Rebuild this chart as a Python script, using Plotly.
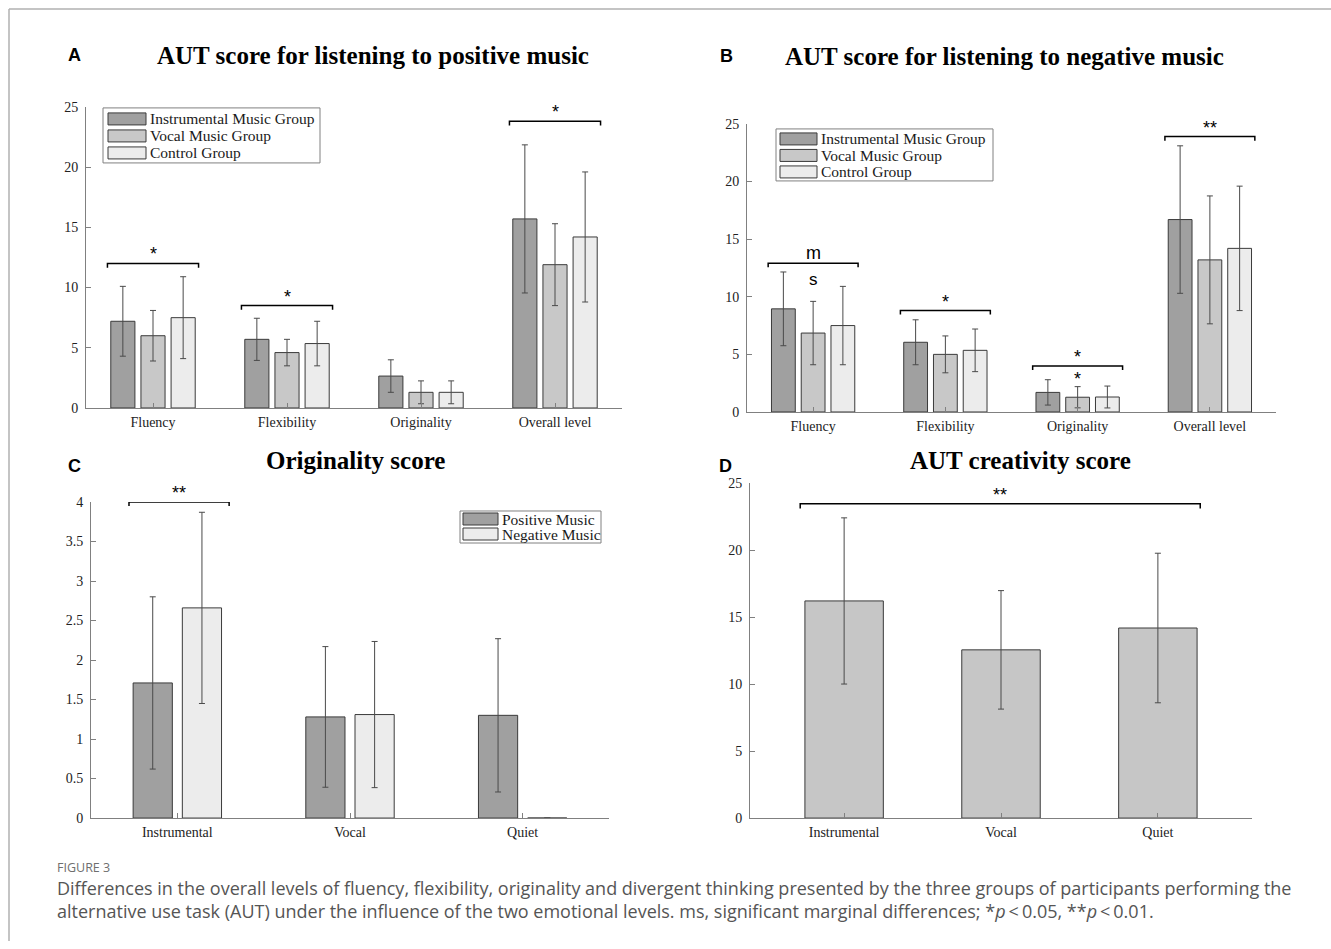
import plotly.graph_objects as go

W, H = 1331, 949

# ---------------- data ----------------
cats_ab = ["Fluency", "Flexibility", "Originality", "Overall level"]
groups_ab = ["Instrumental Music Group", "Vocal Music Group", "Control Group"]

pos_instr = [7.2, 5.7, 2.65, 15.7]
pos_instr_err = [2.9, 1.75, 1.35, 6.15]
pos_vocal = [6.0, 4.6, 1.3, 11.9]
pos_vocal_err = [2.1, 1.1, 0.95, 3.4]
pos_ctrl = [7.5, 5.35, 1.3, 14.2]
pos_ctrl_err = [3.4, 1.85, 0.95, 5.4]

neg_instr = [8.95, 6.05, 1.7, 16.7]
neg_instr_err = [3.2, 1.95, 1.1, 6.4]
neg_vocal = [6.85, 5.0, 1.28, 13.2]
neg_vocal_err = [2.75, 1.6, 0.92, 5.55]
neg_ctrl = [7.5, 5.35, 1.3, 14.2]
neg_ctrl_err = [3.4, 1.85, 0.95, 5.4]

cats_c = ["Instrumental", "Vocal", "Quiet"]
groups_c = ["Positive Music", "Negative Music"]
orig_pos = [1.71, 1.28, 1.30]
orig_pos_err = [1.09, 0.89, 0.97]
orig_neg = [2.66, 1.31, 0.0]
orig_neg_err = [1.21, 0.925, 0.0]

cats_d = ["Instrumental", "Vocal", "Quiet"]
creat = [16.2, 12.55, 14.18]
creat_err = [6.2, 4.42, 5.58]

titles = ["AUT score for listening to positive music",
          "AUT score for listening to negative music",
          "Originality score",
          "AUT creativity score"]
letters = ["A", "B", "C", "D"]

caption_head = "FIGURE 3"
caption_lines = [
    "Differences in the overall levels of fluency, flexibility, originality and divergent thinking presented by the three groups of participants performing the",
    "alternative use task (AUT) under the influence of the two emotional levels. ms, significant marginal differences; *<i>p</i>\u2009<\u20090.05, **<i>p</i>\u2009<\u20090.01.",
]

# ---------------- style ----------------
SERIF = "Liberation Serif, Times New Roman, serif"
SANS = "Liberation Sans, Arial, sans-serif"
CAP = "Open Sans, Noto Sans, sans-serif"
AX = "#808080"
EDGE = "#3a3a3a"
ERR = "#4a4a4a"
COL3 = ["#a0a0a0", "#c8c8c8", "#ececec"]
COL2 = ["#a0a0a0", "#ececec"]
COLD = "#c6c6c6"

# vertical calibration of the capture (observed: shown = 0.984 * page + 7)
VS, VO = 0.984, 7.1


def px_x(p):
    return p / W


def px_y(p):
    return 1 - ((p - VO) / VS) / H


fig = go.Figure()


def add_group(xa, ya, cats, series, errs, names, colors, bw, slot):
    n = len(series)
    xs = list(range(len(cats)))
    for i, (vals, er, nm, c) in enumerate(zip(series, errs, names, colors)):
        center = (i - (n - 1) / 2) * slot
        fig.add_trace(go.Bar(
            x=xs, y=vals, name=nm, showlegend=False,
            width=bw, offset=center - bw / 2,
            marker=dict(color=c, line=dict(color=EDGE, width=1)),
            error_y=dict(type="data", array=er, color=ERR, thickness=1, width=3),
            xaxis=xa, yaxis=ya, hoverinfo="skip",
        ))


add_group("x", "y", cats_ab,
          [pos_instr, pos_vocal, pos_ctrl],
          [pos_instr_err, pos_vocal_err, pos_ctrl_err],
          groups_ab, COL3, 0.18, 0.225)
add_group("x2", "y2", cats_ab,
          [neg_instr, neg_vocal, neg_ctrl],
          [neg_instr_err, neg_vocal_err, neg_ctrl_err],
          groups_ab, COL3, 0.18, 0.225)
add_group("x3", "y3", cats_c,
          [orig_pos, orig_neg], [orig_pos_err, orig_neg_err],
          groups_c, COL2, 0.227, 0.285)
fig.add_trace(go.Bar(
    x=list(range(len(cats_d))), y=creat, width=0.5, offset=-0.25, showlegend=False,
    marker=dict(color=COLD, line=dict(color=EDGE, width=1)),
    error_y=dict(type="data", array=creat_err, color=ERR, thickness=1, width=3),
    xaxis="x4", yaxis="y4", hoverinfo="skip",
))

# ---------------- axes ----------------
def xaxis(dom, anchor, cats, rng):
    return dict(domain=[px_x(dom[0]), px_x(dom[1])], anchor=anchor,
                range=rng, tickvals=list(range(len(cats))), ticktext=cats,
                showline=True, linecolor=AX, linewidth=1, ticks="inside",
                ticklen=5, tickcolor=AX, showgrid=False, zeroline=False,
                tickfont=dict(family=SERIF, size=14, color="#222"),
                ticklabelstandoff=1, fixedrange=True)


def yaxis(dom, anchor, rng, tv, tt):
    return dict(domain=[px_y(dom[1]), px_y(dom[0])], anchor=anchor,
                range=rng, tickvals=tv, ticktext=tt,
                showline=True, linecolor=AX, linewidth=1, ticks="inside",
                ticklen=5, tickcolor=AX, showgrid=False, zeroline=False,
                tickfont=dict(family=SERIF, size=14, color="#222"),
                ticklabelstandoff=4, fixedrange=True)


t25 = [0, 5, 10, 15, 20, 25]
t4 = [0, 0.5, 1, 1.5, 2, 2.5, 3, 3.5, 4]

fig.update_layout(
    xaxis=xaxis((86, 622), "y", cats_ab, [-0.5, 3.5]),
    yaxis=yaxis((107, 408), "x", [0, 25], t25, [str(v) for v in t25]),
    xaxis2=xaxis((747, 1276), "y2", cats_ab, [-0.5, 3.5]),
    yaxis2=yaxis((124, 412), "x2", [0, 25], t25, [str(v) for v in t25]),
    xaxis3=xaxis((91, 609), "y3", cats_c, [-0.5, 2.5]),
    yaxis3=yaxis((502, 818), "x3", [0, 4], t4, [f"{v:g}" for v in t4]),
    xaxis4=xaxis((750, 1252), "y4", cats_d, [-0.6, 2.6]),
    yaxis4=yaxis((483, 818), "x4", [0, 25], t25, [str(v) for v in t25]),
)

# ---------------- annotations & shapes ----------------
ann = []
shapes = []


def rect(x0, y0, x1, y1, fill, line, lw=1):
    shapes.append(dict(type="rect", xref="paper", yref="paper",
                       x0=px_x(x0), x1=px_x(x1), y0=px_y(y1), y1=px_y(y0),
                       fillcolor=fill, line=dict(color=line, width=lw)))


def legend_box(box, sw_x, rows, text_x, names, colors):
    rect(*box, "white", AX)
    for yc, nm, c in zip(rows, names, colors):
        rect(sw_x[0], yc - 6, sw_x[1], yc + 6, c, EDGE)
        ann.append(dict(text=nm, x=px_x(text_x), y=px_y(yc), xref="paper", yref="paper",
                        xanchor="left", yanchor="middle", showarrow=False,
                        font=dict(family=SERIF, size=15.5, color="#1a1a1a")))


legend_box((103, 108, 320, 163), (108, 146), (119, 136, 153), 147.5, groups_ab, COL3)
legend_box((776, 129, 993, 181), (780, 817), (139, 155.5, 172), 819, groups_ab, COL3)
legend_box((460, 511, 601, 543), (463, 498), (519, 534), 500, groups_c, COL2)

title_pos = [(373, 56), (1004, 57), (355, 461), (1020, 461)]
letter_pos = [(74, 55), (726, 56), (74, 466), (725, 466)]
for t, (x, y) in zip(titles, title_pos):
    ann.append(dict(text=f"<b>{t}</b>", x=px_x(x), y=px_y(y), xref="paper", yref="paper",
                    xanchor="center", yanchor="middle", showarrow=False,
                    font=dict(family=SERIF, size=25, color="#000")))
for t, (x, y) in zip(letters, letter_pos):
    ann.append(dict(text=f"<b>{t}</b>", x=px_x(x), y=px_y(y), xref="paper", yref="paper",
                    xanchor="center", yanchor="middle", showarrow=False,
                    font=dict(family=SANS, size=18, color="#000")))


def bracket(xa, ya, x0, x1, y, drop, label, label_shift=-3):
    shapes.append(dict(type="path", xref=xa, yref=ya,
                       path=f"M {x0},{y - drop} L {x0},{y} L {x1},{y} L {x1},{y - drop}",
                       line=dict(color="#000", width=1.5)))
    if label:
        ann.append(dict(text=label, x=(x0 + x1) / 2, y=y, xref=xa, yref=ya,
                        xanchor="center", yanchor="bottom", yshift=label_shift,
                        showarrow=False, font=dict(family=SANS, size=18, color="#000")))


# panel A
bracket("x", "y", -0.34, 0.34, 12.0, 0.35, "*")
bracket("x", "y", 0.66, 1.34, 8.5, 0.35, "*")
bracket("x", "y", 2.66, 3.34, 23.8, 0.35, "*")
# panel B
bracket("x2", "y2", -0.34, 0.34, 12.9, 0.35, "m", label_shift=-2)
ann.append(dict(text="s", x=0, y=11.5, xref="x2", yref="y2", xanchor="center",
                yanchor="middle", showarrow=False,
                font=dict(family=SANS, size=17, color="#000")))
bracket("x2", "y2", 0.66, 1.34, 8.8, 0.35, "*")
bracket("x2", "y2", 1.66, 2.34, 4.0, 0.35, "*")
ann.append(dict(text="*", x=2, y=1.85, xref="x2", yref="y2", xanchor="center",
                yanchor="bottom", showarrow=False,
                font=dict(family=SANS, size=18, color="#000")))
bracket("x2", "y2", 2.66, 3.34, 23.9, 0.35, "**")
# panel C
bracket("x3", "y3", -0.28, 0.3, 4.0, 0.05, "**")
# panel D
bracket("x4", "y4", -0.28, 2.27, 23.45, 0.35, "**")

# caption
ann.append(dict(text=caption_head, x=px_x(55), y=px_y(867), xref="paper", yref="paper",
                xanchor="left", yanchor="middle", showarrow=False,
                font=dict(family=CAP, size=12.5, color="#6e6e6e")))
ann.append(dict(text="<br>".join(caption_lines), x=px_x(55), y=px_y(899.5), xref="paper",
                yref="paper", xanchor="left", yanchor="middle", align="left",
                showarrow=False, font=dict(family=CAP, size=18, color="#555")))

# frame
shapes.append(dict(type="line", xref="paper", yref="paper", x0=px_x(9), x1=px_x(9),
                   y0=px_y(9), y1=0, line=dict(color="#b0b0b0", width=1.5)))
shapes.append(dict(type="line", xref="paper", yref="paper", x0=px_x(9), x1=1,
                   y0=px_y(9), y1=px_y(9), line=dict(color="#b0b0b0", width=1.5)))

fig.update_layout(
    annotations=ann, shapes=shapes,
    width=W, height=H, margin=dict(l=0, r=0, t=0, b=0),
    paper_bgcolor="white", plot_bgcolor="white",
    barmode="group", showlegend=False,
)

# pin the plot to the page corner so the page is exactly the figure size
post = (
    "var d=document.getElementById('{plot_id}');"
    "document.documentElement.style.margin='0';"
    "document.documentElement.style.overflow='hidden';"
    "document.body.style.margin='0';document.body.style.overflow='hidden';"
    "d.style.position='absolute';d.style.left='0px';d.style.top='0px';"
)
fig.write_html("out.html", config={"displayModeBar": False}, post_script=post)
